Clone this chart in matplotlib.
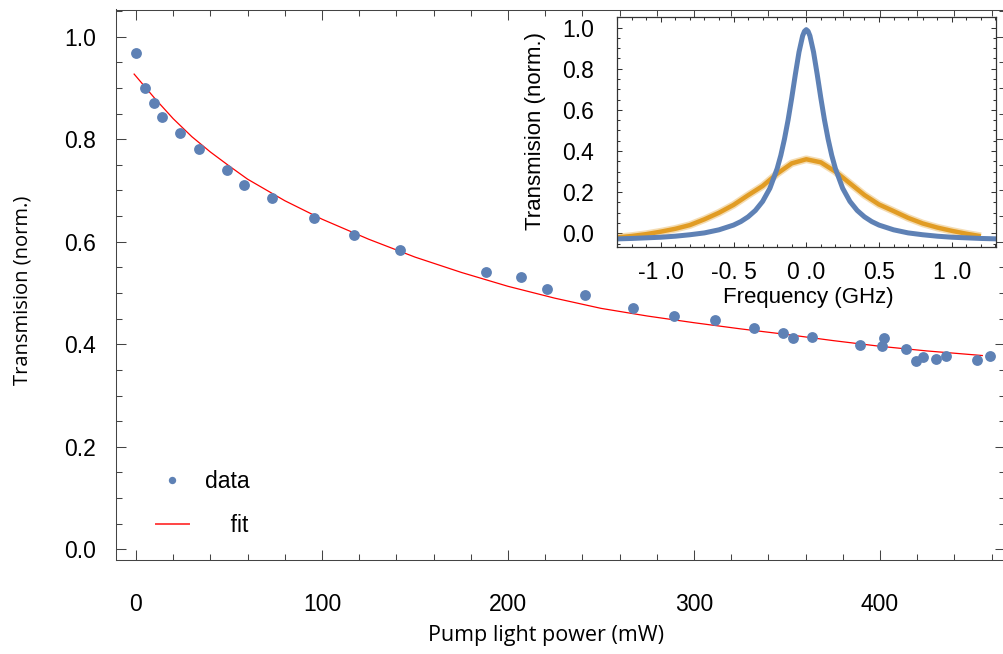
import matplotlib
matplotlib.use("Agg")
import matplotlib.pyplot as plt
from matplotlib.lines import Line2D
from matplotlib.ticker import MultipleLocator

# main panel: transmission vs pump power
power = [0, 4.8, 9.9, 14.0, 23.8, 33.9, 48.8, 57.9, 73.0, 95.9, 117.0, 142.0,
         188.2, 207.0, 221.1, 241.2, 267.2, 289.1, 311.3, 332.3, 348.0, 353.0,
         363.3, 389.2, 402.2, 401.3, 414.0, 419.2, 423.3, 429.9, 435.3, 452.3, 459.1]
trans = [0.969, 0.899, 0.871, 0.844, 0.813, 0.781, 0.739, 0.711, 0.686, 0.646,
         0.614, 0.583, 0.541, 0.531, 0.507, 0.497, 0.470, 0.455, 0.447, 0.431,
         0.421, 0.412, 0.415, 0.399, 0.412, 0.397, 0.390, 0.367, 0.375, 0.371,
         0.378, 0.369, 0.377]

fit_power = [-1, 10, 20, 30, 40, 50, 60, 80, 100, 125, 150, 175, 200, 225,
             250, 275, 300, 325, 350, 375, 400, 425, 455]
fit_trans = [0.927, 0.880, 0.840, 0.805, 0.775, 0.748, 0.722, 0.680, 0.644,
             0.605, 0.570, 0.540, 0.513, 0.490, 0.470, 0.455, 0.442, 0.430,
             0.419, 0.407, 0.396, 0.387, 0.378]

# inset: transmission spectra
freq_blue = [-1.30, -1.2, -1.1, -1.0, -0.9, -0.8, -0.7, -0.6, -0.5, -0.45, -0.4,
             -0.35, -0.3, -0.25, -0.2, -0.175, -0.15, -0.125, -0.1, -0.075, -0.05,
             -0.025, -0.0125, 0.0, 0.0125, 0.025, 0.05, 0.075, 0.1, 0.125, 0.15,
             0.175, 0.2, 0.25, 0.3, 0.35, 0.4, 0.45, 0.5, 0.6, 0.7, 0.8, 0.9,
             1.0, 1.1, 1.2, 1.31]
trans_blue = [-0.027, -0.025, -0.022, -0.019, -0.014, -0.007, 0.002, 0.017, 0.040,
              0.057, 0.080, 0.111, 0.155, 0.219, 0.315, 0.379, 0.458, 0.551, 0.658,
              0.773, 0.881, 0.960, 0.982, 0.990, 0.982, 0.960, 0.881, 0.773, 0.658,
              0.551, 0.458, 0.379, 0.315, 0.219, 0.155, 0.111, 0.080, 0.057, 0.040,
              0.017, 0.002, -0.007, -0.014, -0.019, -0.022, -0.025, -0.027]

freq_orange = [-1.30, -1.2, -1.1, -1.0, -0.9, -0.8, -0.7, -0.6, -0.5, -0.4, -0.3,
               -0.2, -0.1, 0.0, 0.1, 0.2, 0.3, 0.4, 0.5, 0.6, 0.7, 0.8, 0.9, 1.0,
               1.1, 1.2]
trans_orange = [-0.020, -0.013, -0.004, 0.008, 0.022, 0.040, 0.068, 0.100, 0.138,
                0.185, 0.230, 0.290, 0.340, 0.360, 0.345, 0.300, 0.243, 0.186,
                0.140, 0.108, 0.075, 0.048, 0.028, 0.012, -0.002, -0.014]

inset_xticks = [-1.0, -0.5, 0.0, 0.5, 1.0]
inset_xticklabels = ['-1 .0', '-0. 5', '0 .0', '0.5', '1 .0']

blue = '#5E81B5'
orange = '#E19C24'
frame = '#444444'

plt.rcParams['font.family'] = ['Liberation Sans', 'DejaVu Sans']

fig = plt.figure(figsize=(10.04, 6.54), dpi=100)
ax = fig.add_axes([116 / 1004, 94 / 654, 889 / 1004, 550.5 / 654])

ax.plot(fit_power, fit_trans, color='red', lw=0.9, zorder=2)
ax.plot(power, trans, 'o', color=blue, ms=7.8, mec='none', zorder=3)

ax.set_xlim(-10.75, 467.2)
ax.set_ylim(-0.0209, 1.053)
ax.set_xticks([0, 100, 200, 300, 400])
ax.set_yticks([0.0, 0.2, 0.4, 0.6, 0.8, 1.0])
ax.set_yticklabels(['0.0', '0.2', '0.4', '0.6', '0.8', '1.0'])
ax.xaxis.set_minor_locator(MultipleLocator(20))
ax.yaxis.set_minor_locator(MultipleLocator(0.05))
ax.tick_params(which='both', direction='in', top=True, right=True,
               color=frame, width=0.75, labelsize=16.5)
ax.tick_params(which='major', length=7.2)
ax.tick_params(which='minor', length=4.3)
ax.tick_params(axis='x', pad=24)
ax.tick_params(axis='y', pad=14.5)
for s in ax.spines.values():
    s.set_color(frame)
    s.set_linewidth(0.75)

ax.set_xlabel('Pump light power (mW)', family='Open Sans', fontsize=15.5, va='center')
ax.xaxis.set_label_coords(0.4837, -0.138)
ax.set_ylabel('Transmision (norm.)', family='Open Sans', fontsize=14.5, va='center')
ax.yaxis.set_label_coords(-0.1057, 0.4905)

handles = [Line2D([], [], ls='none', marker='o', ms=5.3, color=blue, mec='none'),
           Line2D([], [], color='#ff4444', lw=1.4)]
ax.legend(handles, ['data', '    fit'], loc='lower left',
          bbox_to_anchor=(40 / 889, 23 / 550.5), frameon=False, fontsize=16.5,
          handlelength=1.44, handletextpad=0.72, labelspacing=0.93,
          borderaxespad=0, borderpad=0)

# inset
ins = fig.add_axes([616.7 / 1004, 406.7 / 654, 379.3 / 1004, 230 / 654])
ins.set_facecolor('white')
ins.set_zorder(5)
ins.plot(freq_orange, trans_orange, color=orange, lw=5.5, alpha=0.35,
         solid_capstyle='butt')
ins.plot(freq_orange, trans_orange, color=orange, lw=3.2, solid_capstyle='butt')
ins.plot(freq_blue, trans_blue, color=blue, lw=3.6)
ins.set_xlim(-1.303, 1.304)
ins.set_ylim(-0.068, 1.05)
ins.set_xticks(inset_xticks)
ins.set_xticklabels(inset_xticklabels)
ins.set_yticks([0.0, 0.2, 0.4, 0.6, 0.8, 1.0])
ins.set_yticklabels(['0.0', '0.2', '0.4', '0.6', '0.8', '1.0'])
ins.xaxis.set_minor_locator(MultipleLocator(0.1))
ins.yaxis.set_minor_locator(MultipleLocator(0.05))
ins.tick_params(which='both', direction='in', top=True, right=True,
                color='#333333', width=0.75, labelsize=16.5)
ins.tick_params(which='major', length=3.6)
ins.tick_params(which='minor', length=2.2)
ins.tick_params(axis='x', pad=10)
ins.tick_params(axis='y', pad=16.5)
for s in ins.spines.values():
    s.set_color('#333333')
    s.set_linewidth(0.9)
ins.set_xlabel('Frequency (GHz)', fontsize=16, va='center')
ins.xaxis.set_label_coords(0.5044, -0.2174)
ins.set_ylabel('Transmision (norm.)', fontsize=16, va='center')
ins.yaxis.set_label_coords(-0.2128, 0.5035)

fig.savefig('out.png', dpi=100)
